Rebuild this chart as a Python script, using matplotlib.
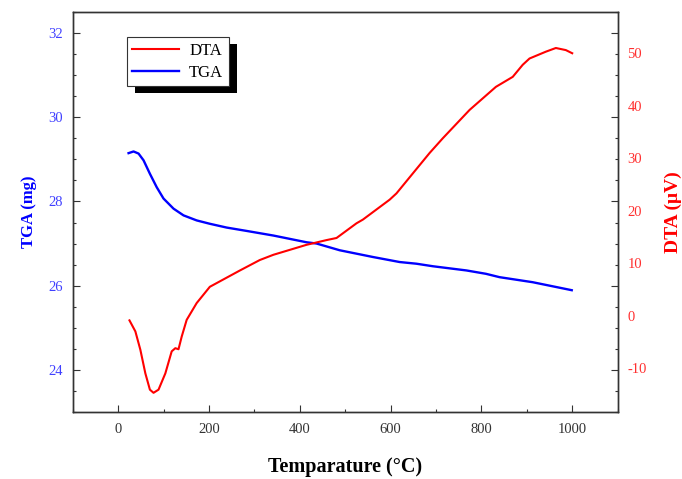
import matplotlib.pyplot as plt
import matplotlib.patheffects as pe

# TGA / DTA curves of the sample, temperature in degrees C
tga_temp = [23, 34, 45, 56, 70, 85, 100, 122, 144, 173, 202, 239, 283, 342,
            415, 437, 488, 561, 620, 657, 693, 767, 810, 840, 913, 999]
tga_mass = [29.15, 29.19, 29.14, 28.98, 28.66, 28.34, 28.07, 27.83, 27.67,
            27.55, 27.47, 27.38, 27.30, 27.19, 27.03, 27.00, 26.84, 26.68,
            26.56, 26.52, 26.46, 26.36, 26.28, 26.20, 26.08, 25.89]

dta_temp = [25, 38, 49, 60, 70, 78, 89, 104, 118, 126, 133, 140, 151, 173,
            202, 268, 312, 342, 415, 459, 481, 525, 539, 598, 613, 649, 686,
            715, 774, 832, 869, 891, 906, 942, 964, 986, 1000]
dta_signal = [-0.9, -3.0, -6.5, -11.0, -14.1, -14.7, -14.1, -11.0, -6.8, -6.2,
              -6.4, -4.0, -0.8, 2.4, 5.5, 8.6, 10.6, 11.6, 13.5, 14.4, 14.8,
              17.6, 18.3, 22.1, 23.3, 27.1, 31.0, 33.8, 39.2, 43.6, 45.5,
              47.8, 49.0, 50.3, 51.0, 50.6, 50.0]

x_ticks = [0, 200, 400, 600, 800, 1000]
tga_ticks = [24, 26, 28, 30, 32]
dta_ticks = [-10, 0, 10, 20, 30, 40, 50]

plt.rcParams['font.family'] = ['Liberation Serif', 'DejaVu Serif']
plt.rcParams['axes.unicode_minus'] = False

fig = plt.figure(figsize=(6.82, 4.79), dpi=100)
ax1 = fig.add_axes([0.1066, 0.1405, 0.799, 0.8338])
ax2 = ax1.twinx()

tga_line, = ax1.plot(tga_temp, tga_mass, color='#0000ff', lw=1.7)
dta_line, = ax2.plot(dta_temp, dta_signal, color='#ff0000', lw=1.5)

ax1.set_xlim(-100, 1100)
ax1.set_ylim(23, 32.5)
ax2.set_ylim(-18.3, 57.8)

ax1.set_xticks(x_ticks)
ax1.set_xticks(range(-100, 1101, 100), minor=True)
ax1.set_yticks(tga_ticks)
ax1.set_yticks([23 + 0.5 * i for i in range(20)], minor=True)
ax2.set_yticks(dta_ticks)

# left-axis ticks are mirrored on the right spine, DTA labels carry no marks
ax1.tick_params(which='both', direction='in', top=False, right=True,
                colors='#333333', labelsize=10.5)
ax1.tick_params(which='major', length=5, width=0.8)
ax1.tick_params(which='minor', length=2.5, width=0.8)
ax1.tick_params(axis='x', labelcolor='#333333', pad=8)
ax1.tick_params(axis='y', labelcolor='#4040ff', pad=7)
ax2.tick_params(axis='y', length=0, labelcolor='#ff3030', labelsize=10.5,
                pad=7)

for ax in (ax1, ax2):
    for sp in ax.spines.values():
        sp.set_color('#333333')
        sp.set_linewidth(1.0)

ax1.set_xlabel('Temparature (°C)', fontsize=14.5, fontweight='bold',
               labelpad=15)
ax1.set_ylabel('TGA (mg)', fontsize=12, fontweight='bold', color='#0000ff',
               labelpad=8)
ax2.set_ylabel('DTA (μV)', fontsize=14, fontweight='bold', color='#ff0000',
               labelpad=13)

leg = ax2.legend([dta_line, tga_line], ['DTA', 'TGA'], loc='upper left',
                 bbox_to_anchor=(0.099, 0.939), borderaxespad=0,
                 fontsize=12, handlelength=2.8, handletextpad=0.6,
                 borderpad=0.35, labelspacing=0.36, fancybox=False,
                 edgecolor='#333333', framealpha=1)
leg.get_frame().set_linewidth(0.8)
leg.get_frame().set_path_effects([
    pe.SimplePatchShadow(offset=(6, -5), shadow_rgbFace='black', alpha=1.0),
    pe.Normal()])

fig.savefig('out.png', dpi=100)
